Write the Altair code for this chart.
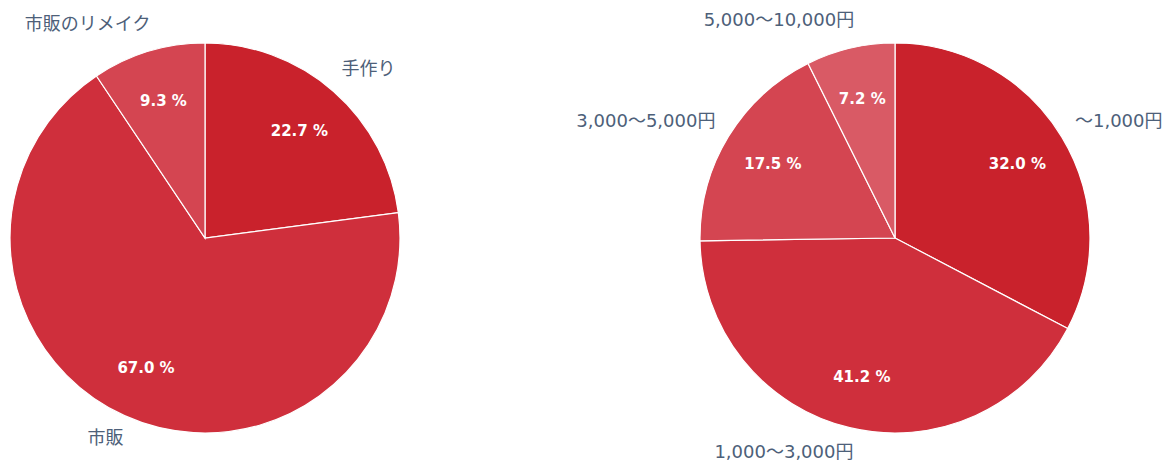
import math
import altair as alt
import pandas as pd

# ---- data ----
left_cats = ["手作り", "市販", "市販のリメイク"]
left_vals = [22.7, 67.0, 9.3]
left_colors = ["#c9222c", "#cf2f3c", "#d44551"]

right_cats = ["～1,000円", "1,000～3,000円", "3,000～5,000円", "5,000～10,000円"]
right_vals = [32.0, 41.2, 17.5, 7.2]
right_colors = ["#c9222c", "#cf2f3c", "#d44551", "#d95a65"]

LABEL_FONT = "DejaVu Sans, Noto Sans CJK JP"
PCT_FONT = "DejaVu Sans"
LABEL_COLOR = "#4d6079"
R = 195


def pie_layers(cats, vals, colors, cx, cy):
    df = pd.DataFrame({"cat": cats, "value": vals, "idx": list(range(len(cats)))})
    base = (
        alt.Chart(df)
        .transform_window(cum="sum(value)", sort=[alt.SortField("idx")], frame=[None, 0])
        .transform_joinaggregate(total="sum(value)")
        .transform_calculate(
            mid="(datum.cum - datum.value / 2) / datum.total",
            pct="format(datum.value, '.1f') + ' %'",
        )
    )
    arc = (
        alt.Chart(df)
        .mark_arc(radius=R, stroke="white", strokeWidth=1.2)
        .encode(
            theta=alt.Theta("value:Q", stack=True),
            order=alt.Order("idx:Q"),
            color=alt.Color("cat:N", scale=alt.Scale(domain=cats, range=colors), legend=None),
            x=alt.value(cx),
            y=alt.value(cy),
        )
    )
    theta_mid = alt.Theta("mid:Q", stack=False, scale=alt.Scale(domain=[0, 1], range=[0, 2 * math.pi]))
    pct = base.mark_text(
        radius=143, font=PCT_FONT, fontWeight="bold", fontSize=15, color="white"
    ).encode(theta=theta_mid, text="pct:N", x=alt.value(cx), y=alt.value(cy))
    lab_right_side = (
        base.transform_filter("datum.mid < 0.5")
        .mark_text(radius=222, align="left", baseline="middle", dx=-10, dy=-1,
                   font=LABEL_FONT, fontSize=18, color=LABEL_COLOR)
        .encode(theta=theta_mid, text="cat:N", x=alt.value(cx), y=alt.value(cy))
    )
    lab_left_side = (
        base.transform_filter("datum.mid >= 0.5")
        .mark_text(radius=222, align="right", baseline="middle", dx=10, dy=-1,
                   font=LABEL_FONT, fontSize=18, color=LABEL_COLOR)
        .encode(theta=theta_mid, text="cat:N", x=alt.value(cx), y=alt.value(cy))
    )
    return [arc, pct, lab_right_side, lab_left_side]


layers = pie_layers(left_cats, left_vals, left_colors, 197, 230) + pie_layers(
    right_cats, right_vals, right_colors, 887, 230
)

chart = (
    alt.layer(*layers)
    .resolve_scale(theta="independent", color="independent")
    .properties(width=1154, height=452, padding=0, autosize=alt.AutoSizeParams(type="none"))
    .configure_view(strokeWidth=0)
)

chart.save("out.html", embed_options={"renderer": "svg", "actions": False})
